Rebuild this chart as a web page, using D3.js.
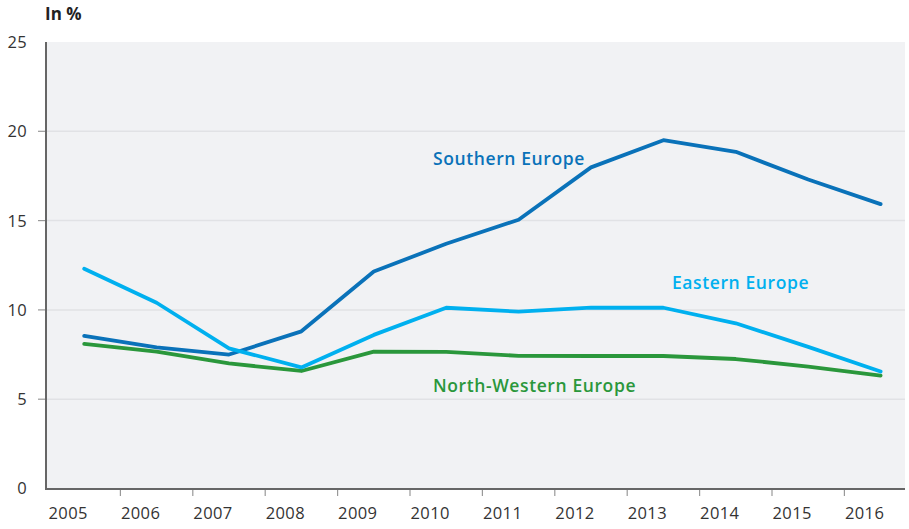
<!DOCTYPE html>
<html>
<head>
<meta charset="utf-8">
<script src="https://cdn.jsdelivr.net/npm/d3@7/dist/d3.min.js"></script>
<style>
  html, body { margin: 0; padding: 0; background: #ffffff; }
  svg { display: block; }
  text { font-family: "Open Sans", "Noto Sans", sans-serif; }
</style>
</head>
<body>
<svg id="chart" width="909" height="529"></svg>
<script>
const years = [2005, 2006, 2007, 2008, 2009, 2010, 2011, 2012, 2013, 2014, 2015, 2016];
const southern = [8.55, 7.9, 7.5, 8.8, 12.15, 13.7, 15.05, 17.98, 19.5, 18.85, 17.3, 15.92];
const eastern = [12.3, 10.4, 7.85, 6.78, 8.6, 10.12, 9.9, 10.13, 10.12, 9.25, 7.93, 6.55];
const northWestern = [8.1, 7.66, 7.0, 6.58, 7.66, 7.65, 7.43, 7.42, 7.42, 7.25, 6.83, 6.32];
const yTicks = [0, 5, 10, 15, 20, 25];
const seriesNames = ["Southern Europe", "Eastern Europe", "North-Western Europe"];
const seriesColors = ["#0a72b9", "#00b0ef", "#2a973b"];

(function () {
const svg = d3.select("#chart");
const pL = 46, pR = 905, pT = 42, pB = 489;

const x = d3.scaleBand().domain(years).range([48, 48 + 12 * 72.4]);
const y = d3.scaleLinear().domain([0, 25]).range([488.5, 42]);

// plot background
svg.append("rect")
  .attr("x", pL).attr("y", pT)
  .attr("width", pR - pL).attr("height", pB - pT)
  .attr("fill", "#f1f2f4");

// gridlines
svg.append("g").selectAll("line")
  .data(yTicks.filter(d => d > 0 && d < 25))
  .join("line")
  .attr("x1", pL).attr("x2", pR)
  .attr("y1", d => y(d)).attr("y2", d => y(d))
  .attr("stroke", "#e1e2e5").attr("stroke-width", 1.5);

// y tick marks
svg.append("g").selectAll("line")
  .data(yTicks.filter(d => d > 0 && d < 25))
  .join("line")
  .attr("x1", 38).attr("x2", pL)
  .attr("y1", d => y(d)).attr("y2", d => y(d))
  .attr("stroke", "#999").attr("stroke-width", 1.2);

// y tick labels
svg.append("g").selectAll("text")
  .data(yTicks)
  .join("text")
  .attr("x", 27).attr("y", d => y(d))
  .attr("dy", "0.36em")
  .attr("text-anchor", "end")
  .attr("font-size", 16.5)
  .attr("letter-spacing", 0.3)
  .attr("fill", "#333")
  .text(d => d);

// x tick marks (band boundaries)
svg.append("g").selectAll("line")
  .data(years.slice(1))
  .join("line")
  .attr("x1", d => x(d)).attr("x2", d => x(d))
  .attr("y1", pB).attr("y2", pB + 7)
  .attr("stroke", "#999").attr("stroke-width", 1.2);

// x tick labels
svg.append("g").selectAll("text")
  .data(years)
  .join("text")
  .attr("x", d => x(d) + 0.5).attr("y", 519)
  .attr("text-anchor", "start")
  .attr("font-size", 16.5)
  .attr("letter-spacing", 0.4)
  .attr("fill", "#333")
  .text(d => d);

// axes lines
svg.append("line")
  .attr("x1", pL).attr("x2", pL).attr("y1", pT).attr("y2", pB + 1)
  .attr("stroke", "#666").attr("stroke-width", 2);
svg.append("line")
  .attr("x1", pL - 1).attr("x2", pR).attr("y1", pB).attr("y2", pB)
  .attr("stroke", "#666").attr("stroke-width", 2);

// y-axis title
svg.append("text")
  .attr("x", 45).attr("y", 20)
  .attr("font-size", 17).attr("font-weight", 700)
  .attr("fill", "#222")
  .text("In %");

// lines
const line = d3.line()
  .x((d, i) => x(years[i]) + x.bandwidth() / 2)
  .y(d => y(d));

const allSeries = [southern, eastern, northWestern];
[2, 0, 1].forEach(k => {
  svg.append("path")
    .datum(allSeries[k])
    .attr("d", line)
    .attr("fill", "none")
    .attr("stroke", seriesColors[k])
    .attr("stroke-width", 3.8)
    .attr("stroke-linejoin", "round")
    .attr("stroke-linecap", "round");
});

// series labels
const labelPos = [
  { x: 433, y: 165 },
  { x: 672, y: 289 },
  { x: 433, y: 392 }
];
seriesNames.forEach((name, k) => {
  svg.append("text")
    .attr("x", labelPos[k].x).attr("y", labelPos[k].y)
    .attr("font-size", 17.5).attr("font-weight", 600)
    .attr("letter-spacing", 0.6)
    .attr("fill", seriesColors[k])
    .text(name);
});
})();
</script>
</body>
</html>
